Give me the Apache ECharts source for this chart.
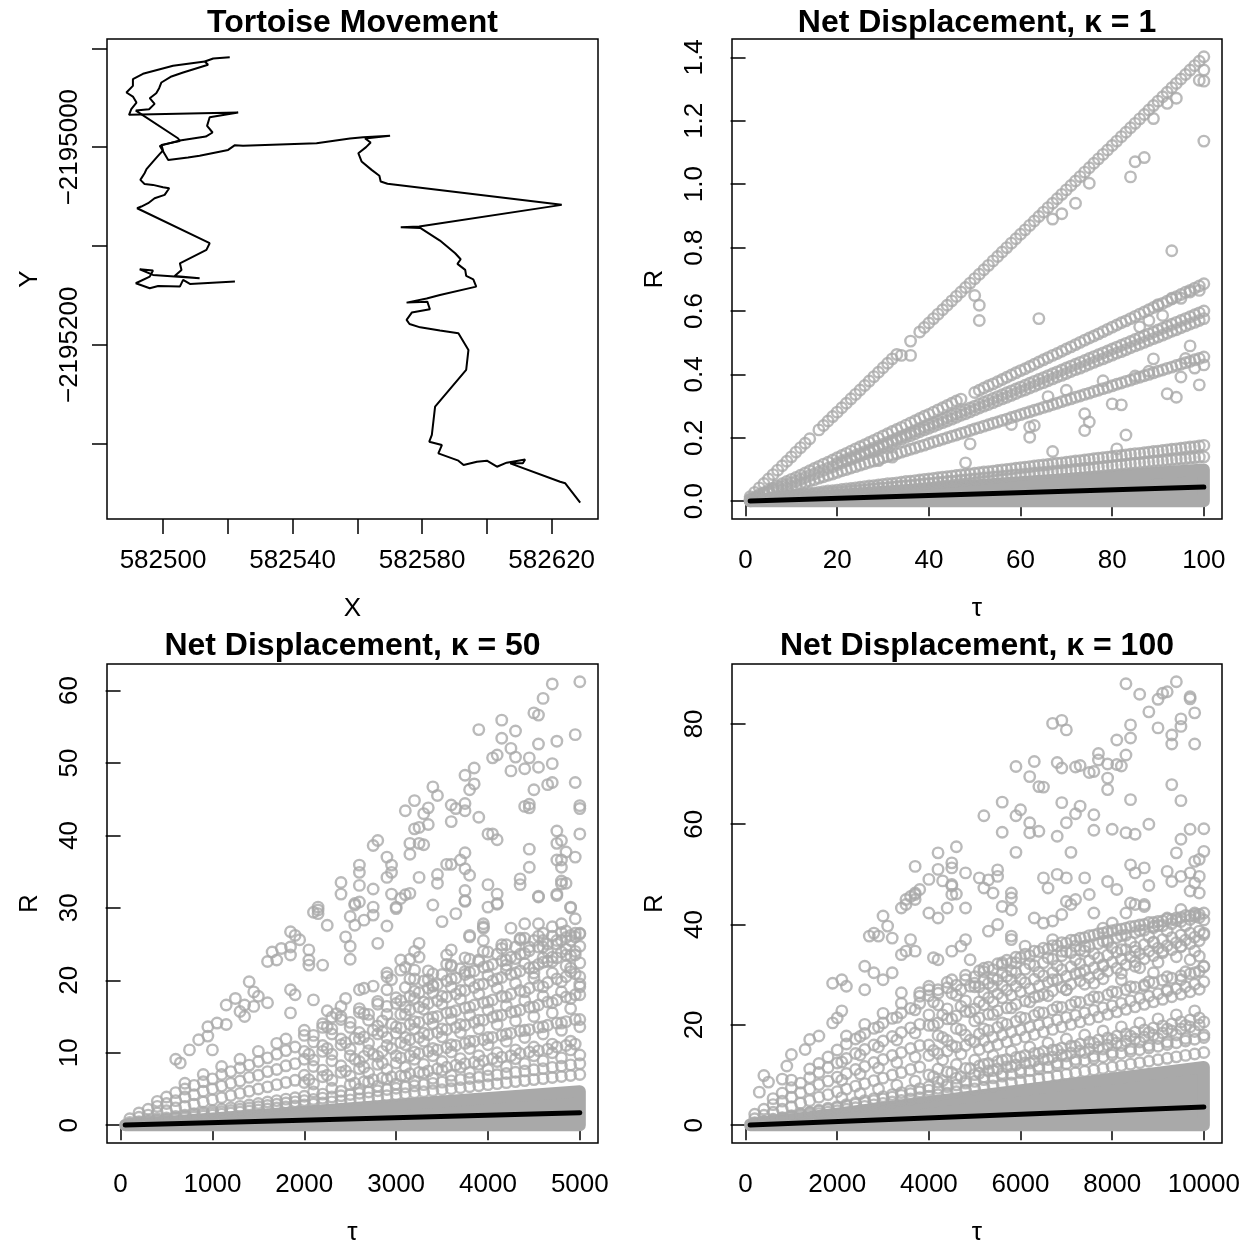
<!DOCTYPE html>
<html>
<head>
<meta charset="utf-8">
<script src="https://cdn.jsdelivr.net/npm/echarts@6/dist/echarts.min.js"></script>
<style>
  html, body { margin: 0; padding: 0; background: #fff; }
  #chart { width: 1252px; height: 1247px; }
</style>
</head>
<body>
<div id="chart"></div>
<script>
// panel 1: tortoise track (two stretches of the walk)
var walkA = [[582520.6,-2194909.0],[582515.5,-2194910.3],[582512.9,-2194913.4],[582513.9,-2194916.7],[582506.2,-2194924.5],[582502.6,-2194928.5],[582499.5,-2194934.6],[582498.8,-2194940.3],[582497.9,-2194945.4],[582495.9,-2194950.5],[582497.4,-2194956.2],[582495.7,-2194961.6],[582491.6,-2194963.0],[582504.6,-2194991.0],[582505.2,-2194993.7],[582499.5,-2194997.7],[582500.0,-2195003.4],[582499.0,-2195006.8],[582496.9,-2195014.6],[582494.9,-2195022.3],[582494.3,-2195026.4],[582493.0,-2195033.1],[582494.3,-2195037.2],[582496.9,-2195038.2],[582500.0,-2195040.5],[582501.9,-2195041.6],[582500.5,-2195048.3],[582497.4,-2195051.7],[582495.4,-2195056.7],[582493.3,-2195060.1],[582492.0,-2195061.8],[582514.4,-2195097.2],[582513.4,-2195104.0],[582505.2,-2195117.5],[582505.7,-2195124.2],[582503.6,-2195130.3],[582511.3,-2195132.6],[582496.9,-2195129.3],[582492.8,-2195123.5],[582496.9,-2195124.9],[582495.9,-2195131.0],[582491.6,-2195137.7],[582495.9,-2195142.8],[582498.5,-2195140.4],[582505.2,-2195141.1],[582506.2,-2195134.3],[582508.3,-2195138.4],[582522.2,-2195136.0]];
var walkB = [[582512.9,-2194913.4],[582503.1,-2194917.7],[582493.8,-2194925.8],[582490.7,-2194931.2],[582490.7,-2194938.0],[582488.7,-2194944.7],[582490.7,-2194948.8],[582491.8,-2194954.9],[582490.2,-2194961.6],[582489.5,-2194967.3],[582523.2,-2194965.0],[582514.4,-2194969.7],[582513.6,-2194978.5],[582515.3,-2194985.2],[582513.2,-2194989.3],[582505.2,-2194993.3],[582499.0,-2194998.7],[582501.6,-2195012.9],[582507.7,-2195010.5],[582511.3,-2195008.8],[582520.1,-2195002.8],[582522.2,-2194998.0],[582524.7,-2194998.7],[582547.4,-2194996.0],[582557.7,-2194991.3],[582561.8,-2194989.9],[582570.1,-2194988.6],[582562.4,-2194991.3],[582564.1,-2194995.3],[582562.7,-2195000.0],[582560.3,-2195006.1],[582561.3,-2195014.5],[582564.4,-2195023.0],[582566.8,-2195029.0],[582567.2,-2195034.8],[582569.3,-2195037.1],[582623.1,-2195058.4],[582579.1,-2195080.3],[582573.4,-2195081.0],[582579.4,-2195081.7],[582585.5,-2195094.5],[582590.2,-2195107.3],[582591.9,-2195113.4],[582590.9,-2195118.1],[582593.3,-2195124.2],[582593.6,-2195130.3],[582595.8,-2195133.7],[582596.7,-2195141.1],[582585.5,-2195149.5],[582581.4,-2195153.2],[582575.2,-2195157.3],[582581.6,-2195156.3],[582582.4,-2195164.0],[582576.8,-2195167.4],[582575.2,-2195174.8],[582576.1,-2195178.9],[582579.4,-2195182.3],[582585.5,-2195185.6],[582591.2,-2195188.3],[582594.3,-2195205.2],[582593.6,-2195225.4],[582584.0,-2195262.6],[582583.0,-2195291.2],[582582.2,-2195298.0],[582586.1,-2195301.4],[582585.0,-2195309.8],[582591.2,-2195317.2],[582592.8,-2195321.6],[582596.9,-2195318.2],[582600.0,-2195317.2],[582603.1,-2195323.3],[582606.1,-2195319.2],[582611.8,-2195315.9],[582611.1,-2195319.9],[582607.2,-2195319.9],[582622.6,-2195338.5],[582624.2,-2195340.1],[582623.7,-2195341.8],[582628.8,-2195359.7]];

// panel 2: kappa = 1, tau 1..100
var tau1 = [1,2,3,4,5,6,7,8,9,10,11,12,13,14,15,16,17,18,19,20,21,22,23,24,25,26,27,28,29,30,31,32,33,34,35,36,37,38,39,40,41,42,43,44,45,46,47,48,49,50,51,52,53,54,55,56,57,58,59,60,61,62,63,64,65,66,67,68,69,70,71,72,73,74,75,76,77,78,79,80,81,82,83,84,85,86,87,88,89,90,91,92,93,94,95,96,97,98,99,100];
var rayA = [
  .014,.028,.042,.056,.070,.084,.098,.112,.126,.140,
  .155,.169,.183,.197,null,.225,.239,.253,.267,.281,
  .295,.309,.323,.337,.351,.365,.379,.393,.407,.421,
  .435,.449,.463,null,null,.505,null,.534,.548,.562,
  .576,.590,.604,.618,.632,.646,.660,.674,.688,.702,
  .716,.730,.744,.758,.772,.786,.800,.814,.828,.842,
  .856,.870,.884,.898,.912,.926,.940,.954,.968,.982,
  .996,1.010,1.024,1.038,1.052,1.066,1.080,1.094,1.108,1.122,
  1.136,1.150,1.164,1.178,1.192,1.206,1.220,1.234,1.248,1.262,
  1.276,1.290,1.304,1.318,1.332,1.346,1.360,1.374,1.388,1.402];
var rayB = [
  null,null,.021,.027,.034,.041,.048,.055,.062,.069,
  .075,.082,.089,.096,.103,.110,.117,.123,.130,.137,
  .144,.151,.158,.165,.172,.178,.185,.192,.199,.206,
  .213,.220,.226,.233,.240,.247,.254,.261,.268,.274,
  .281,.288,.295,.302,.309,.316,.322,null,null,.343,
  .350,.357,.364,.370,.377,.384,.391,.398,.405,.412,
  .418,.425,.432,.439,.446,.453,.460,.466,.473,.480,
  .487,.494,.501,.508,.515,.521,.528,.535,.542,.549,
  .556,.563,.569,.576,.583,.590,.597,.604,.611,.617,
  .624,.631,.638,.645,.652,.659,.665,.672,.679,.686];
var rayC1 = [
  null,null,null,null,null,null,null,null,null,null,
  null,null,null,null,null,null,null,null,null,.120,
  .126,.132,.138,.144,.150,.156,.162,.168,.174,.180,
  .186,.192,.198,.204,.210,.216,.222,.228,.234,.240,
  .246,.252,.258,.264,.270,.276,.282,.288,.294,.300,
  .306,.312,.318,.324,.330,.336,.342,.348,.354,.360,
  .366,.372,.378,.384,.390,.396,.402,.408,.414,.420,
  .426,.432,.438,.444,.450,.456,.462,.468,.474,.480,
  .486,.492,.498,.504,.510,.516,.522,.528,.534,.540,
  .546,.552,.558,.564,.570,.576,.582,.588,.594,.600];
var rayC2 = [
  .006,.012,.017,.023,.029,.035,.040,.046,.052,.058,
  .063,.069,.075,.081,.086,.092,.098,.104,.109,.115,
  .121,.127,.132,.138,.144,.150,.156,.161,.167,.173,
  .179,.184,.190,.196,.202,.207,.213,.219,.225,.230,
  .236,.242,.248,.253,.259,.265,.271,.276,.282,.288,
  .294,.300,.305,.311,.317,.323,.328,.334,.340,.346,
  .351,.357,.363,.369,.374,.380,.386,.392,.397,.403,
  .409,.415,.420,.426,.432,.438,.444,.449,.455,.461,
  .467,.472,.478,.484,.490,.495,.501,.507,.513,.518,
  .524,.530,.536,.541,.547,.553,.559,.564,.570,.576];
var rayD = [
  .005,.009,.014,.018,.023,.027,.032,.036,.041,.046,
  .050,.055,.059,.064,.068,.073,.077,.082,.086,.091,
  .096,.100,.105,.109,.114,.118,.123,.127,.132,.137,
  .141,.146,.150,.155,.159,.164,.168,.173,.177,.182,
  .187,.191,.196,.200,.205,.209,.214,.218,.223,.228,
  .232,.237,.241,.246,.250,.255,.259,.264,.268,.273,
  .278,.282,.287,.291,.296,.300,.305,.309,.314,.319,
  .323,.328,.332,.337,.341,.346,.350,.355,.359,.364,
  .369,.373,.378,.382,.387,.391,.396,.400,.405,.410,
  .414,.419,.423,.428,.432,.437,.441,.446,.450,.455];
var rayE = [
  .002,.004,.005,.007,.009,.011,.012,.014,.016,.018,
  .019,.021,.023,.025,.026,.028,.030,.032,.033,.035,
  .037,.039,.040,.042,.044,.046,.048,.049,.051,.053,
  .055,.056,.058,.060,.062,.063,.065,.067,.069,.070,
  .072,.074,.076,.077,.079,.081,.083,.084,.086,.088,
  .090,.092,.093,.095,.097,.099,.100,.102,.104,.106,
  .107,.109,.111,.113,.114,.116,.118,.120,.121,.123,
  .125,.127,.128,.130,.132,.134,.136,.137,.139,.141,
  .143,.144,.146,.148,.150,.151,.153,.155,.157,.158,
  .160,.162,.164,.165,.167,.169,.171,.172,.174,.176];
var rayF = [
  .001,.003,.004,.006,.007,.008,.010,.011,.013,.014,
  .015,.017,.018,.020,.021,.022,.024,.025,.027,.028,
  .029,.031,.032,.034,.035,.036,.038,.039,.041,.042,
  .043,.045,.046,.048,.049,.050,.052,.053,.055,.056,
  .057,.059,.060,.062,.063,.064,.066,.067,.069,.070,
  .071,.073,.074,.076,.077,.078,.080,.081,.083,.084,
  .085,.087,.088,.090,.091,.092,.094,.095,.097,.098,
  .099,.101,.102,.104,.105,.106,.108,.109,.111,.112,
  .113,.115,.116,.118,.119,.120,.122,.123,.125,.126,
  .127,.129,.130,.132,.133,.134,.136,.137,.139,.140];
var stray1 = [[50,0.649],[51,0.618],[51,0.570],[64,0.576],[92,0.339],[94,0.328],[80,0.307],[82,0.304],[74,0.276],[75,0.25],[74,0.223],[62,0.234],[63,0.239],[62,0.202],[83,0.209],[67,0.157],[49,0.181],[48,0.121],[97,0.49],[99,0.367],[95,0.392],[89,0.449],[91,0.586],[81,0.165],[58,0.242],[29,0.128],[32,0.139],[72,0.94],[67,0.89],[69,0.907],[75,1.003],[84,1.023],[85,1.071],[87,1.084],[89,1.207],[92,1.255],[94,1.271],[93,0.79],[100,1.136],[99,1.328],[100,1.325],[100,1.36],[34,0.46],[36,0.46],[95,0.64],[97,0.66],[99,0.665],[90,0.62],[93,0.64],[86,0.55],[88,0.57],[96,0.45],[98,0.42],[100,0.43],[85,0.395],[88,0.41],[78,0.38],[70,0.35],[66,0.33]];
var band1 = [[1,0],[100,0],[100,0.100],[1,0.001]];
var mean1 = [[1,0.0005],[100,0.0445]];

// panel 3: kappa = 50
var tau50 = [100,200,300,400,500,600,700,800,900,1000,1100,1200,1300,1400,1500,1600,1700,1800,1900,2000,2100,2200,2300,2400,2500,2600,2700,2800,2900,3000,3100,3200,3300,3400,3500,3600,3700,3800,3900,4000,4100,4200,4300,4400,4500,4600,4700,4800,4900,5000];
var edge50a = [0.17,0.34,0.51,0.68,0.85,1.02,1.19,1.36,1.53,1.70,1.87,2.04,2.21,2.38,2.55,2.72,2.89,3.06,3.23,3.40,3.57,3.74,3.91,4.08,4.25,4.42,4.59,4.76,4.93,5.10,5.27,5.44,5.61,5.78,5.95,6.12,6.29,6.46,6.63,6.80,6.97,7.14,7.31,7.48,7.65,7.82,7.99,8.16,8.33,8.50];
var edge50b = [0.14,0.28,0.42,0.56,0.70,0.84,0.98,1.12,1.26,1.40,1.54,1.68,1.82,1.96,2.10,2.24,2.38,2.52,2.66,2.80,2.94,3.08,3.22,3.36,3.50,3.64,3.78,3.92,4.06,4.20,4.34,4.48,4.62,4.76,4.90,5.04,5.18,5.32,5.46,5.60,5.74,5.88,6.02,6.16,6.30,6.44,6.58,6.72,6.86,7.00];
var core50 = [
  [100,[0.4,0.9]],[200,[0.5,1.1,1.7]],[300,[0.7,1.4,2.2]],[400,[0.9,1.7,2.6,3.3]],[500,[1.0,2.0,3.0,3.9]],
  [600,[1.2,2.4,3.4,4.5]],[700,[1.4,2.6,3.9,5.0,5.8]],[800,[1.6,2.9,4.2,5.5]],[900,[1.8,3.2,4.7,6.0,7.0]],
  [1000,[2.0,3.5,5.0,6.4]],[1100,[2.2,3.8,5.4,7.0,8.1]],[1200,[2.4,4.1,5.8,7.4]],[1300,[2.6,4.4,6.1,7.9,9.1]],
  [1400,[2.8,4.7,6.6,8.3]],[1500,[3.0,5.0,6.9,8.8,10.2]],[1600,[3.2,5.3,7.4,9.3]],[1700,[3.4,5.6,7.7,9.8,11.3]],
  [1800,[3.6,5.9,8.2,10.3,11.9]],[1900,[3.8,6.2,8.5,10.8]],
  [2000,[4.0,5.9,6.9,9.1,10.2,12.4,13.1]],[2100,[4.6,5.7,8.1,9.0,11.5,12.4]],[2200,[4.3,6.7,7.6,10.2,11.0,13.5,14.0]],
  [2300,[5.1,6.2,8.9,9.8,12.6,13.3]],[2400,[4.7,7.3,8.2,11.1,11.9,14.6,15.0]],[2500,[5.6,6.8,9.6,10.5,13.5,14.2]],
  [2600,[5.0,7.8,8.8,11.9,12.8,15.6,16.1]],[2700,[6.0,7.2,10.3,11.3,14.5,15.3]],[2800,[5.4,8.4,9.5,12.6,13.7,16.7,17.1]],
  [2900,[6.4,7.7,11.0,12.1,15.3,16.4]],[3000,[5.7,8.6,9.6,12.7,13.6,16.8,17.6]],[3100,[6.8,8.0,11.1,12.1,15.3,16.3,19.0]],
  [3200,[6.1,9.1,10.1,13.3,14.3,17.5,18.5,20.2]],[3300,[7.2,8.4,11.6,12.7,16.0,17.0,19.9]],[3400,[6.5,9.6,10.6,14.0,14.9,18.3,19.3,20.9]],
  [3500,[7.6,8.8,12.2,13.3,16.7,17.8,20.8]],[3600,[6.9,10.1,11.1,14.6,15.6,19.1,20.2,21.9]],[3700,[8.0,9.2,12.8,13.9,17.4,18.6,21.6]],
  [3800,[7.3,10.6,11.6,15.2,16.3,19.9,21.1,22.9]],[3900,[8.4,9.6,13.3,14.5,18.1,19.4,22.6]],[4000,[7.7,11.1,12.1,15.9,17.0,20.7,21.9,23.9]],
  [4100,[8.8,10.0,13.9,15.1,18.9,20.2,23.6]],[4200,[8.1,11.6,12.6,16.5,17.7,21.5,22.8,24.9]],[4300,[9.2,10.4,14.4,15.7,19.6,21.0,24.6]],
  [4400,[8.5,12.1,13.1,17.2,18.4,22.3,23.7,25.8]],[4500,[9.6,10.8,15.0,16.3,20.3,21.8,25.5]],[4600,[8.9,12.6,13.6,17.8,19.1,23.1,24.6,26.5]],
  [4700,[10.0,11.2,15.5,16.9,21.0,22.6,26.1]],[4800,[9.3,13.1,14.1,18.4,19.8,23.9,25.5,26.6]],[4900,[10.4,11.6,16.1,17.5,21.7,23.4,26.2]],
  [5000,[9.7,13.6,14.6,19.1,20.5,24.7,26.4]],
  [2050,[6.3,9.8]],[2250,[6.9,10.6,13.6]],[2450,[7.5,11.4]],[2650,[8.0,12.2,15.4]],[2850,[8.6,12.9]],
  [3050,[9.3,13.4,17.2]],[3150,[9.6,13.9,17.8,20.2]],[3250,[9.9,14.2,18.3]],[3350,[10.2,14.7,18.9,21.3]],[3450,[10.4,15.0,19.4]],
  [3550,[10.7,15.5,19.9,22.2]],[3650,[11.0,15.8,20.3]],[3750,[11.3,16.2,20.8,23.1]],[3850,[11.6,16.6,21.3]],[3950,[11.8,16.9,21.8,24.0]],
  [4050,[12.1,17.3,22.2]],[4150,[12.4,17.8,22.7,24.9]],[4250,[12.7,18.1,23.2]],[4350,[13.0,18.6,23.6,25.6]],[4450,[13.2,18.9,24.1]],
  [4550,[13.5,19.3,24.6,26.1]],[4650,[13.8,19.7,25.0]],[4750,[14.1,20.2,25.5]],[4850,[14.3,20.5,25.9]],[4950,[14.6,20.9,26.0]],
  [2550,[5.8,9.1,12.0]],[2650,[6.0,9.5]],[2750,[6.3,9.8,13.1]],[2850,[6.5,10.2,14.4]],[2950,[6.7,10.6,14.0]],
  [3050,[6.8,11.4,15.3]],[3150,[7.1,11.8,15.9]],[3250,[7.3,12.1,16.3]],[3350,[7.5,12.5,16.8]],[3450,[7.8,12.8,17.2]],
  [3550,[8.0,13.2,17.7]],[3650,[8.3,13.5,18.1]],[3750,[8.5,13.8,18.6]],[3850,[8.7,14.2,19.0]],[3950,[8.9,14.5,19.5]],
  [4050,[9.2,14.9,19.9]],[4150,[9.4,15.2,20.4]],[4250,[9.6,15.6,20.8]],[4350,[9.9,15.9,21.3]],[4450,[10.1,16.3,21.7]],
  [4550,[10.3,16.6,22.2]],[4650,[10.5,17.0,22.6]],[4750,[10.8,17.3,23.1]],[4850,[11.0,17.7,23.5]],[4950,[11.2,18.0,24.0]]
];
var stray50 = [[5000,61.2],[4700,60.9],[4600,58.9],[4500,56.9],[4550,56.6],[4150,55.9],[3900,54.6],[4300,54.4],[4150,53.4],[4950,53.9],[4750,53.0],[4550,52.6],[4250,52.0],[4050,50.7],[4100,51.1],[4300,50.8],[4450,50.7],[4250,48.9],[4400,49.2],[4550,49.4],[4700,49.9],[3850,49.3],[3750,48.3],[3850,47.1],[3800,46.3],[4650,47.0],[4700,47.3],[4950,47.3],[4500,46.3],[3400,46.7],[3450,45.5],[3200,44.8],[3100,43.4],[3350,43.8],[3300,43.0],[3600,44.2],[3650,43.7],[3750,44.4],[3750,43.4],[3600,41.9],[3900,42.5],[4400,44.0],[4450,44.3],[4450,43.8],[5000,44.1],[5000,43.7],[5000,40.2],[3350,41.5],[3200,40.9],[3250,41.1],[3150,38.9],[3250,38.9],[3300,38.7],[3150,37.4],[2750,38.6],[2800,39.3],[2900,37.0],[4000,40.2],[4050,40.2],[4100,39.4],[4750,40.6],[4750,38.9],[4800,39.3],[4450,38.1],[4850,37.7],[4950,37.0],[4800,36.6],[3750,37.6],[3700,36.6],[3600,36.0],[3550,36.0],[3750,35.4],[3800,34.5],[2950,35.9],[2900,34.2],[2950,34.9],[2600,35.9],[2600,34.9],[2600,33.1],[2400,33.5],[2400,31.9],[2750,32.6],[2950,31.9],[3250,34.2],[3450,34.6],[3450,33.4],[4000,33.2],[4100,31.9],[4100,30.5],[4350,34.0],[4350,33.2],[4450,35.6],[4550,31.5],[4750,31.7],[4800,33.7],[4850,33.4],[4800,35.6],[4750,36.6],[3750,32.4],[3750,30.9],[3400,30.4],[3100,31.8],[3150,32.0],[3000,30.1],[2750,30.1],[2550,30.6],[2600,30.8],[2150,30.1],[4900,30.0],
  [3000,29.9],[3050,31.3],[3650,29.2],[3750,31.0],[4000,30.1],[4100,30.6],[4550,31.6],[4750,31.9],[4900,30.1],[4800,33.3],[2100,29.4],[2150,29.7],[2250,27.6],[2150,29.2],[2500,28.8],[2550,30.4],[2650,28.3],[2750,29.0],[2900,27.5],[2550,27.6],[2800,25.1],[2450,26.0],[2500,24.7],[2500,22.9],[3500,28.1],[3800,26.0],[1600,22.6],[1700,22.8],[1650,23.9],[1750,24.4],[1850,24.6],[1850,23.5],[1900,26.2],[1850,26.7],[1950,25.6],[2050,24.2],[2050,22.8],[2050,22.1],[2200,22.1],[4250,27.2],[4400,27.8],[4550,27.8],[4700,27.4],[4800,27.8],[4950,26.5],[5000,26.5],[5000,22.4],[3950,27.2],[3950,27.8],[4150,24.4],[4200,22.1],[4300,23.0],[3600,24.2],[3550,23.5],[3600,22.1],[3750,21.2],[3250,25.1],[3200,24.0],[3150,22.9],[3050,22.8],[3100,21.8],[2900,21.0],[3050,21.4],[2950,20.1],[1400,19.8],[1450,18.4],[1250,17.5],[1350,16.6],[1450,16.4],[1600,16.9],[1500,17.8],[1150,16.6],[1300,15.7],[1350,15.0],[950,13.6],[950,12.3],[1000,10.4],[1050,14.1],[1150,13.9],[650,8.6],[600,9.1],[750,10.4],[850,11.8],[1850,18.7],[1900,18.0],[2100,17.3],[1850,15.5],[2400,16.4],[2450,17.5],[2250,15.8],[2300,14.9],[2350,15.4],[2600,18.7],[2650,18.9],[2750,19.2],[2900,20.5],[2900,18.7],[3200,21.4],[3250,23.2],[3350,20.1],[3400,19.2],[3950,25.5],[3950,27.4],[3800,26.2],[3900,22.8],[4600,25.5],[4650,24.0],[4750,25.0],[4850,24.3],[4900,25.5],[4950,23.5],[4850,22.0],[4700,23.2],[4600,22.5],[4450,24.6],[4500,21.0],[4350,25.8],[4900,21.2],[5000,19.5],[5000,18.0],[4950,28.5],[4850,26.8]];
var band50 = [[50,0],[5000,0],[5000,4.7],[50,0.05]];
var mean50 = [[50,0.02],[5000,1.74]];

// panel 4: kappa = 100
var tau100 = [200,400,600,800,1000,1200,1400,1600,1800,2000,2200,2400,2600,2800,3000,3200,3400,3600,3800,4000,4200,4400,4600,4800,5000,5200,5400,5600,5800,6000,6200,6400,6600,6800,7000,7200,7400,7600,7800,8000,8200,8400,8600,8800,9000,9200,9400,9600,9800,10000];
var edge100a = [0.35,0.70,1.05,1.40,1.75,2.10,2.45,2.80,3.15,3.50,3.85,4.20,4.55,4.90,5.25,5.60,5.95,6.30,6.65,7.00,7.35,7.70,8.05,8.40,8.75,9.10,9.45,9.80,10.15,10.50,10.85,11.20,11.55,11.90,12.25,12.60,12.95,13.30,13.65,14.00,14.35,14.70,15.05,15.40,15.75,16.10,16.45,16.80,17.15,17.50];
var edge100b = [0.29,0.58,0.87,1.16,1.45,1.74,2.03,2.32,2.61,2.90,3.19,3.48,3.77,4.06,4.35,4.64,4.93,5.22,5.51,5.80,6.09,6.38,6.67,6.96,7.25,7.54,7.83,8.12,8.41,8.70,8.99,9.28,9.57,9.86,10.15,10.44,10.73,11.02,11.31,11.60,11.89,12.18,12.47,12.76,13.05,13.34,13.63,13.92,14.21,14.50];
var core100 = [
  [200,[0.5,1.3,2.2]],[400,[0.8,2.0,3.2]],[600,[1.2,2.6,4.1,5.3]],[800,[1.5,3.2,4.8,6.4]],[1000,[1.9,3.7,5.6,7.5,9.0]],
  [1200,[2.3,4.4,6.5,8.4]],[1400,[2.6,4.9,7.2,9.5,11.2]],[1600,[3.0,5.6,8.1,10.5,12.3]],[1800,[3.4,6.1,8.8,11.5,13.6]],
  [2000,[3.7,6.7,9.6,12.4,15.0]],[2200,[4.1,7.2,10.3,13.3,16.2,17.8]],[2400,[4.5,7.8,11.1,14.3,17.2]],
  [2600,[4.9,8.3,11.7,15.1,18.3,20.1]],[2800,[5.3,8.9,12.5,16.0,19.3]],[3000,[5.7,9.4,13.1,16.8,20.4,22.3]],
  [3200,[6.1,10.0,13.9,17.7,21.3]],[3400,[6.5,10.5,14.5,18.5,22.4,24.3]],[3600,[6.9,11.1,15.3,19.4,23.3]],
  [3800,[7.3,11.6,15.9,20.1,24.3,26.4]],
  [4000,[7.7,10.0,13.9,16.0,19.9,22.0,25.8,27.0]],[4200,[8.6,11.2,14.3,17.9,20.4,24.0,26.3]],[4400,[8.1,10.6,14.8,16.9,21.2,23.2,27.4,28.5]],
  [4600,[9.4,12.1,15.6,19.3,21.8,25.9,27.9]],[4800,[8.8,11.3,15.9,18.0,22.7,24.8,29.0,29.9]],[5000,[10.1,13.0,16.6,20.8,23.2,27.6,29.6]],
  [5200,[9.6,12.1,16.9,19.2,24.0,26.3,30.6,31.3]],[5400,[10.9,13.9,17.6,22.1,24.6,29.3,31.0]],[5600,[10.3,12.9,18.0,20.4,25.4,27.8,32.0,32.4]],
  [5800,[11.7,14.8,18.6,23.4,25.9,30.8,32.4]],[6000,[11.0,13.6,19.0,21.5,26.6,29.1,33.4]],[6200,[12.4,15.6,19.6,24.6,27.2,32.2,33.8]],
  [6400,[11.7,14.3,20.0,22.5,27.8,30.5,34.6]],[6600,[13.1,16.4,20.5,25.8,28.5,33.4,35.1]],[6800,[12.4,15.0,21.0,23.6,29.0,31.8,35.8]],
  [7000,[13.8,17.2,21.5,27.0,29.7,34.6,36.3]],[7200,[13.1,15.7,21.9,24.6,30.2,33.0,36.9]],[7400,[14.5,18.0,22.4,28.1,30.9,35.7,37.4]],
  [7600,[13.8,16.4,22.9,25.6,31.4,34.2,37.9]],[7800,[15.2,18.8,23.4,29.2,32.0,36.7,38.3]],[8000,[14.5,17.1,23.8,26.6,32.5,35.4,38.8]],
  [8200,[15.9,19.6,24.3,30.3,33.1,37.8,39.1]],[8400,[15.2,17.8,24.8,27.6,33.6,36.5,39.6]],[8600,[16.6,20.4,25.3,31.4,34.2,38.8,39.9]],
  [8800,[15.9,18.5,25.7,28.6,34.7,37.6,40.4]],[9000,[17.3,21.2,26.2,32.5,35.3,39.8,40.6]],[9200,[16.6,19.2,26.7,29.6,35.8,38.7,41.1]],
  [9400,[18.0,22.0,27.2,33.6,36.4,40.8,41.3]],[9600,[17.3,19.9,27.6,30.6,36.9,39.8,41.8]],[9800,[18.7,22.8,28.1,34.7,37.5,41.6,42.0]],
  [10000,[18.0,20.6,28.6,31.6,38.0,40.9,42.3]],
  [2100,[5.5,9.0,12.6]],[2500,[6.3,10.2,14.0,17.7]],[2900,[7.2,11.4,15.6,19.6]],[3300,[8.0,12.5,17.0,21.5]],
  [3700,[8.8,13.6,18.4,23.0]],[4100,[9.7,14.9,19.9,24.6]],[4500,[10.5,15.9,21.2,26.3]],[4900,[11.3,17.0,22.6,27.7]],
  [5100,[11.8,18.2,24.6,30.8]],[5300,[12.3,18.9,25.4,31.5]],[5500,[12.7,19.5,26.2,32.2]],[5700,[13.1,20.1,26.9,32.9]],
  [5900,[13.5,20.7,27.7,33.5]],[6100,[13.9,21.3,28.4,34.1]],[6300,[14.3,21.9,29.1,34.7]],[6500,[14.7,22.4,29.8,35.3]],
  [6700,[15.0,23.0,30.4,35.8]],[6900,[15.4,23.5,31.0,36.4]],[7100,[15.8,24.0,31.6,36.9]],[7300,[16.2,24.5,32.2,37.3]],
  [7500,[16.6,25.0,32.8,37.8]],[7700,[17.0,25.5,33.4,38.2]],[7900,[17.4,26.0,33.9,38.6]],[8100,[17.8,26.5,34.5,39.0]],
  [8300,[18.2,27.0,35.0,39.3]],[8500,[18.6,27.5,35.5,39.7]],[8700,[19.0,28.0,36.0,40.0]],[8900,[19.4,28.4,36.5,40.4]],
  [9100,[19.8,28.9,37.0,40.7]],[9300,[20.2,29.3,37.4,41.0]],[9500,[20.6,29.8,37.9,41.4]],[9700,[21.0,30.2,38.3,41.7]],
  [9900,[21.4,30.7,38.7,42.0]],
  [4300,[8.9,13.0,17.5,22.0]],[4700,[9.7,14.2,19.0,23.7]],[5100,[10.4,15.1,21.4,27.6]],[5300,[10.8,15.6,22.1,28.3]],
  [5500,[11.2,16.1,22.8,29.0]],[5700,[11.6,16.6,23.4,29.7]],[5900,[12.0,17.1,24.1,30.4]],[6100,[12.4,17.6,24.8,31.1]],
  [6300,[12.8,18.1,25.5,31.8]],[6500,[13.2,18.6,26.1,32.4]],[6700,[13.6,19.1,26.8,33.1]],[6900,[14.0,19.6,27.5,33.8]],
  [7100,[14.4,20.1,28.1,34.4]],[7300,[14.8,20.6,28.8,35.0]],[7500,[15.2,21.1,29.4,35.6]],[7700,[15.6,21.6,30.1,36.2]],
  [7900,[16.0,22.1,30.7,36.8]],[8100,[16.4,22.6,31.3,37.4]],[8300,[16.8,23.1,32.0,37.9]],[8500,[17.2,23.6,32.6,38.4]],
  [8700,[17.6,24.1,33.2,38.9]],[8900,[18.0,24.6,33.8,39.4]],[9100,[18.4,25.1,34.4,39.8]],[9300,[18.8,25.6,35.0,40.2]],
  [9500,[19.2,26.1,35.6,40.6]],[9700,[19.6,26.6,36.2,41.0]],[9900,[20.0,27.1,36.8,41.4]]
];
var stray100 = [[8300,88.0],[8600,85.9],[8800,82.4],[9000,84.9],[9100,86.1],[9200,86.4],[9400,88.4],[9700,85.4],[9700,85.0],[9800,82.2],[9500,81.0],[9500,79.5],[9000,79.2],[9300,77.8],[9300,76.0],[9800,76.0],[8400,79.8],[8400,77.2],[8100,76.8],[8300,73.8],[8100,71.9],[8200,71.6],[7900,72.0],[7700,74.1],[7700,72.8],[7600,70.5],[7500,70.3],[7300,71.7],[7200,71.4],[6900,71.2],[6800,72.3],[7900,69.2],[7900,66.9],[6700,80.1],[6900,80.7],[7000,78.8],[5900,71.5],[6300,72.5],[6200,69.5],[6400,67.5],[6500,67.4],[9300,67.9],[9500,64.7],[8400,64.9],[5600,64.4],[5200,61.7],[5900,61.7],[6000,62.9],[6200,60.3],[6400,58.6],[6200,58.3],[5600,58.4],[6800,57.6],[6900,64.3],[7000,60.3],[7200,62.1],[7300,63.6],[7600,61.9],[7600,58.8],[8000,59.0],[8300,58.3],[8500,58.0],[8800,60.0],[7100,54.4],[5900,54.4],[9700,59.0],[9500,57.0],[10000,59.1],[9400,54.3],[10000,54.6],[9900,53.0],[9800,52.6],[4200,54.3],[4600,55.5],[3700,51.6],[4200,51.0],[4500,52.3],[4500,51.3],[4000,49.0],[4300,48.7],[4800,50.3],[4500,47.7],[4600,46.1],[3800,47.0],[3500,45.0],[3700,46.0],[5100,49.3],[5500,50.9],[5300,48.9],[5800,46.3],[5800,45.3],[5500,49.6],[6500,49.3],[6600,47.3],[6800,50.0],[7000,49.3],[7400,49.3],[7900,48.6],[8100,47.0],[8400,51.9],[8500,50.3],[8700,51.3],[8800,47.8],[8400,44.3],[8700,44.0],[9200,50.6],[9300,48.6],[9500,49.6],[9700,50.3],[9900,49.6],[9800,48.3],[9700,46.7],[9900,46.3],
  [2700,37.7],[2800,38.3],[2900,37.7],[3000,41.7],[3100,39.7],[3200,37.3],[3400,43.3],[3500,44.0],[3700,45.0],[3700,46.3],[3600,45.6],[4000,42.3],[4200,41.3],[4400,43.3],[4500,46.0],[4500,48.0],[4800,43.3],[3600,37.0],[3400,34.0],[3500,34.7],[3700,34.7],[4100,33.4],[4200,33.0],[4500,34.7],[4800,37.0],[4900,33.0],[4700,35.7],[5300,38.7],[5500,40.0],[5800,37.7],[5800,37.0],[6100,35.7],[5900,32.4],[5200,47.3],[5400,46.3],[5600,43.6],[5800,42.9],[6300,41.3],[6500,40.3],[6700,40.7],[6900,42.0],[7000,44.6],[7100,44.0],[7200,45.0],[7500,46.0],[7600,42.3],[7800,39.3],[8000,40.3],[8300,42.3],[8500,44.0],[8700,43.6],[8900,39.7],[9200,41.3],[9500,43.0],[9800,42.3],[10000,38.3],[6700,37.0],[6900,34.7],[7200,35.7],[7400,34.7],[7900,36.4],[8200,35.0],[8500,34.7],[8900,36.4],[9100,34.7],[9500,35.7],[9700,33.0],[9900,33.7],[1300,15.1],[1400,17.1],[1600,17.8],[1900,20.4],[2000,21.4],[2100,22.8],[2200,27.7],[2100,29.0],[1900,28.3],[900,11.8],[800,9.2],[500,8.6],[300,6.6],[400,9.9],[1000,14.1],[2600,31.7],[2800,30.4],[3000,29.0],[3200,30.4],[3400,26.4],[2600,27.0],[3800,25.7],[4000,27.7],[4200,27.0],[4500,29.0],[4700,27.0],[5000,28.3],[5200,29.0],[5400,27.7],[5600,30.4],[5800,29.0],[6400,25.7],[6700,29.0],[7000,27.0],[7300,30.4],[7600,28.3],[7800,31.7],[8200,29.0],[8500,31.7],[8700,27.7],[8900,30.4],[9200,27.0],[9500,29.0],[9800,30.4],[10000,31.7]];
var band100 = [[100,0],[10000,0],[10000,11.6],[100,0.1]];
var mean100 = [[100,0.03],[10000,3.65]];

// tick positions and labels
var p1XTicks = [582500,582520,582540,582560,582580,582600,582620];
var p1XLabels = [582500,582540,582580,582620];
var p1YTicks = [-2195300,-2195200,-2195100,-2195000,-2194900];
var p1YLabels = [-2195200,-2195000];
var p2XTicks = [0,20,40,60,80,100];
var p2YTicks = [0,0.2,0.4,0.6,0.8,1.0,1.2,1.4];
var p3XTicks = [0,1000,2000,3000,4000,5000];
var p3YTicks = [0,10,20,30,40,50,60];
var p4XTicks = [0,2000,4000,6000,8000,10000];
var p4YTicks = [0,20,40,60,80];

var FONT = "'Liberation Sans', Arial, Helvetica, sans-serif";
var GRAY = '#A9A9A9';

function raysToPoints(tau, rays) {
  var out = [];
  rays.forEach(function (r) {
    r.forEach(function (v, i) { if (v !== null) out.push([tau[i], v]); });
  });
  return out;
}
function columnsToPoints(cols) {
  var out = [];
  cols.forEach(function (c) { c[1].forEach(function (v) { out.push([c[0], v]); }); });
  return out;
}

function makeGrid(left, top, width, height) {
  return { left: left, top: top, width: width, height: height, show: true,
    borderColor: '#000', borderWidth: 1.5, backgroundColor: 'transparent', containLabel: false };
}
function makeAxis(kind, idx, min, max, ticks, labels, name, fmt) {
  var ax = {
    type: 'value', gridIndex: idx, min: min, max: max,
    name: name, nameLocation: 'middle', nameGap: kind === 'x' ? 77 : 64,
    nameTextStyle: { fontSize: 26, color: '#000', fontFamily: FONT },
    axisLine: { show: false },
    axisTick: { show: true, length: 15, customValues: ticks, lineStyle: { color: '#000', width: 1.5 } },
    axisLabel: { customValues: labels, fontSize: 26, color: '#000', fontFamily: FONT, margin: kind === 'x' ? 29 : 24,
      formatter: fmt || function (v) { return String(v); } },
    splitLine: { show: false }
  };
  if (kind === 'y') ax.axisLabel.rotate = 90;
  return ax;
}
function ringSeries(idx, data) {
  return { type: 'scatter', xAxisIndex: idx, yAxisIndex: idx, data: data, symbol: 'circle', symbolSize: 10.5,
    itemStyle: { color: 'rgba(0,0,0,0)', borderColor: GRAY, borderWidth: 2.4 }, silent: true, z: 2 };
}
function bandSeries(idx, pts) {
  return { type: 'custom', xAxisIndex: idx, yAxisIndex: idx, data: pts, silent: true, z: 1,
    renderItem: function (params, api) {
      if (params.dataIndex !== 0) return null;
      return { type: 'polygon',
        shape: { points: pts.map(function (p) { return api.coord(p); }) },
        style: { fill: GRAY, stroke: GRAY, lineWidth: 12, lineJoin: 'round' } };
    } };
}
function meanSeries(idx, data) {
  return { type: 'line', xAxisIndex: idx, yAxisIndex: idx, data: data, showSymbol: false, silent: true, z: 5,
    lineStyle: { color: '#000', width: 5, cap: 'round' } };
}
function titleText(x, y, label) {
  return { type: 'text', x: x, y: y, silent: true,
    style: { text: label, font: 'bold 32px ' + FONT, fill: '#000', align: 'center', verticalAlign: 'middle' } };
}

var minusFmt = function (v) { return (v < 0 ? '\u2212' : '') + Math.abs(v); };
var oneDec = function (v) { return v.toFixed(1); };

var myChart = echarts.init(document.getElementById('chart'));

var option = {
  animation: false,
  backgroundColor: '#fff',
  textStyle: { fontFamily: FONT },
  grid: [
    makeGrid(107, 39, 491, 480),
    makeGrid(732, 39, 490, 480),
    makeGrid(107, 664, 491, 479),
    makeGrid(732, 664, 490, 479)
  ],
  xAxis: [
    makeAxis('x', 0, 582482.7, 582634.3, p1XTicks, p1XLabels, 'X'),
    makeAxis('x', 1, -2.96, 103.96, p2XTicks, p2XTicks, '\u03c4'),
    makeAxis('x', 2, -148, 5198, p3XTicks, p3XTicks, '\u03c4'),
    makeAxis('x', 3, -296, 10396, p4XTicks, p4XTicks, '\u03c4')
  ],
  yAxis: [
    makeAxis('y', 0, -2195376.2, -2194890.6, p1YTicks, p1YLabels, 'Y', minusFmt),
    makeAxis('y', 1, -0.0561, 1.458, p2YTicks, p2YTicks, 'R', oneDec),
    makeAxis('y', 2, -2.45, 63.65, p3YTicks, p3YTicks, 'R'),
    makeAxis('y', 3, -3.54, 91.94, p4YTicks, p4YTicks, 'R')
  ],
  graphic: [
    titleText(352.5, 23, 'Tortoise Movement'),
    titleText(977, 23, 'Net Displacement, \u03ba = 1'),
    titleText(352.5, 646, 'Net Displacement, \u03ba = 50'),
    titleText(977, 646, 'Net Displacement, \u03ba = 100')
  ],
  series: [
    { type: 'line', xAxisIndex: 0, yAxisIndex: 0, data: walkA, showSymbol: false, silent: true,
      lineStyle: { color: '#000', width: 2 } },
    { type: 'line', xAxisIndex: 0, yAxisIndex: 0, data: walkB, showSymbol: false, silent: true,
      lineStyle: { color: '#000', width: 2 } },

    bandSeries(1, band1),
    ringSeries(1, raysToPoints(tau1, [rayA, rayB, rayC1, rayC2, rayD, rayE, rayF]).concat(stray1)),
    meanSeries(1, mean1),

    bandSeries(2, band50),
    ringSeries(2, raysToPoints(tau50, [edge50a, edge50b]).concat(columnsToPoints(core50), stray50)),
    meanSeries(2, mean50),

    bandSeries(3, band100),
    ringSeries(3, raysToPoints(tau100, [edge100a, edge100b]).concat(columnsToPoints(core100), stray100)),
    meanSeries(3, mean100)
  ]
};

myChart.setOption(option);
window.onresize = function () { myChart.resize(); };
</script>
</body>
</html>
